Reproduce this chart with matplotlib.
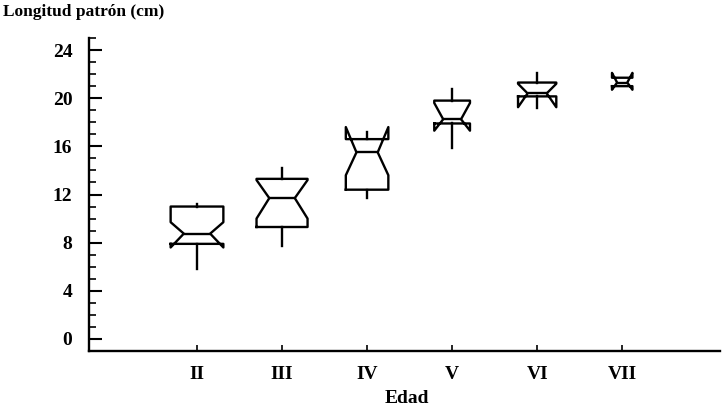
import matplotlib.pyplot as plt
from matplotlib.ticker import MultipleLocator

# datos (longitud patron por edad)
edades = ['II', 'III', 'IV', 'V', 'VI', 'VII']
posiciones = [2, 3, 4, 5, 6, 7]
mediana = [8.75, 11.7, 15.5, 18.25, 20.4, 21.3]
q1 = [7.9, 9.3, 12.4, 17.9, 20.15, 21.0]
q3 = [11.0, 13.3, 16.6, 19.8, 21.3, 21.7]
ci_bajo = [7.6, 10.0, 13.6, 17.3, 19.25, 20.7]
ci_alto = [9.7, 13.2, 17.6, 19.6, 21.2, 22.1]
bigote_bajo = [5.8, 7.75, 11.7, 15.9, 19.2, 21.0]
bigote_alto = [11.2, 14.2, 17.2, 20.8, 22.1, 21.7]
anchos = [0.62, 0.6, 0.5, 0.42, 0.45, 0.24]

plt.rcParams['font.family'] = ['Liberation Serif', 'DejaVu Serif']
plt.rcParams['font.weight'] = 'bold'

stats = []
for i in range(len(edades)):
    stats.append({'med': mediana[i], 'q1': q1[i], 'q3': q3[i],
                  'cilo': ci_bajo[i], 'cihi': ci_alto[i],
                  'whislo': bigote_bajo[i], 'whishi': bigote_alto[i],
                  'fliers': []})

fig = plt.figure(figsize=(7.25, 4.11), dpi=100)
ax = fig.add_axes([89/725, 1-351/411, (720-89)/725, (351-38)/411])

lw = 1.7
ax.bxp(stats, positions=posiciones, widths=anchos, shownotches=True,
       showcaps=False, showfliers=False,
       boxprops=dict(color='black', linewidth=lw),
       whiskerprops=dict(color='black', linewidth=lw),
       medianprops=dict(color='black', linewidth=lw))

ax.set_xlim(0.73, 8.15)
ax.set_ylim(-1, 25)
ax.set_xticks(posiciones)
ax.set_xticklabels(edades)
ax.yaxis.set_major_locator(MultipleLocator(4))
ax.yaxis.set_minor_locator(MultipleLocator(1))
ax.set_yticks(range(0, 25, 4))

for s in ['top', 'right']:
    ax.spines[s].set_visible(False)
for s in ['left', 'bottom']:
    ax.spines[s].set_linewidth(1.7)

ax.tick_params(axis='y', which='major', direction='in', length=9, width=1.5,
               labelsize=14, pad=12)
ax.tick_params(axis='y', which='minor', direction='in', length=5, width=1.2)
ax.tick_params(axis='x', which='major', direction='in', length=4, width=1.2,
               labelsize=14, pad=11)

fig.text(0.004, 1-12/411, 'Longitud patrón (cm)', ha='left', va='center',
         fontsize=12.5, fontweight='bold')
fig.text(407/725, 1-398/411, 'Edad', ha='center', va='center',
         fontsize=14, fontweight='bold')

fig.savefig('out.png', dpi=100)
